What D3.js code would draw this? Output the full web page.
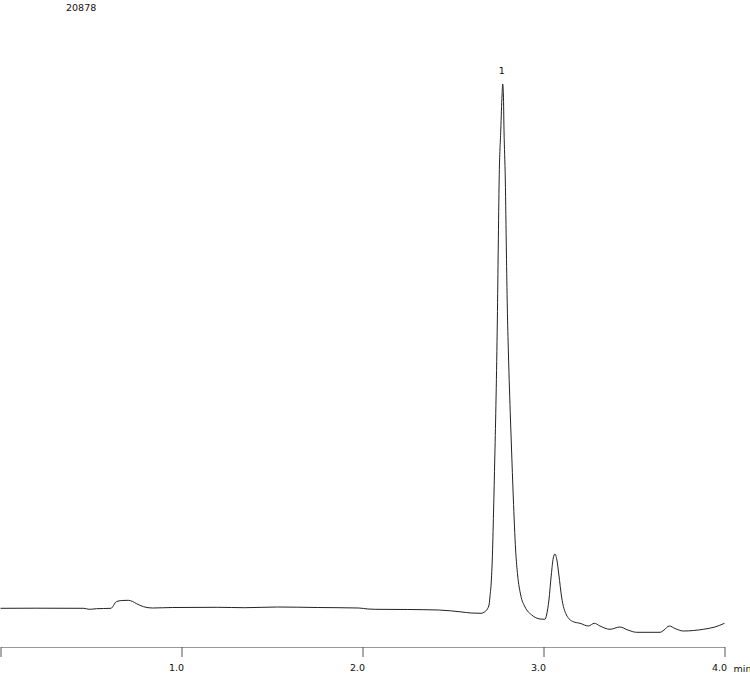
<!DOCTYPE html>
<html>
<head>
<meta charset="utf-8">
<script src="https://cdn.jsdelivr.net/npm/d3@7"></script>
<style>
  html, body { margin: 0; padding: 0; background: #fff; }
  svg { display: block; }
  text { font-family: "DejaVu Sans", Verdana, sans-serif; fill: #111; }
</style>
</head>
<body>
<svg id="chart" width="750" height="673"></svg>
<script>
// Chromatogram data: retention time (min) and detector signal (arbitrary units)
const times = [
  0.00, 0.20, 0.46, 0.49, 0.53, 0.61, 0.64, 0.67, 0.706, 0.73, 0.75, 0.79, 0.84, 0.95,
  1.20, 1.35, 1.53, 1.75, 1.98, 2.03, 2.07, 2.25, 2.42, 2.55, 2.60, 2.655, 2.677, 2.690,
  2.700, 2.704, 2.712, 2.717, 2.724, 2.731, 2.738, 2.745, 2.750, 2.755, 2.764, 2.771,
  2.7746, 2.7785, 2.7818, 2.789, 2.795, 2.800, 2.806, 2.812, 2.823, 2.833, 2.846, 2.857,
  2.874, 2.898, 2.935, 2.981, 3.008,
  3.017, 3.030, 3.043, 3.054, 3.063, 3.074, 3.085, 3.100, 3.127, 3.164, 3.202, 3.248,
  3.281, 3.312, 3.367, 3.422, 3.466, 3.515, 3.644, 3.666, 3.695, 3.727, 3.772, 3.883,
  3.947, 4.00
];
const signal = [
  38.7, 38.8, 38.7, 37.7, 38.3, 38.7, 45.3, 46.5, 46.7, 45.5, 43.5, 40.3, 39.0, 39.5,
  39.7, 39.3, 40.0, 39.5, 39.0, 38.0, 37.7, 37.5, 37.0, 35.0, 34.0, 33.7, 35.5, 38.0,
  43.0, 50.0, 67.0, 87, 135, 190, 250, 327, 400, 467, 517, 552,
  563, 552, 517, 467, 395, 340, 295, 258, 200, 150, 97, 72,
  52, 40, 32, 28, 27.7,
  32, 47, 72, 89, 93, 87, 72, 50, 32, 25.3, 23.7, 21.0,
  23.7, 21.0, 17.7, 20.0, 17.0, 14.7, 14.7, 17.0, 21.0, 18.5, 16.0, 17.7,
  20.0, 23.7
];
const tickValues = [0, 1, 2, 3, 4];
const tickLabels = ["", "1.0", "2.0", "3.0", "4.0"];
const peakLabels = [{ name: "1", time: 2.7746, value: 563 }];
const headerText = "20878";
const unitText = "min";

const svg = d3.select("#chart");
const x = d3.scaleLinear().domain([0, 4]).range([0.5, 724.5]);
const y = d3.scaleLinear().domain([0, 647]).range([647, 0]);

const pts = times.map((t, i) => ({ t, v: signal[i] }));

// Axis
const axis = d3.axisBottom(x)
  .tickValues(tickValues)
  .tickFormat((d, i) => tickLabels[i])
  .tickSize(10)
  .tickSizeOuter(0)
  .tickPadding(7);
const gAxis = svg.append("g")
  .attr("transform", `translate(0,${y(0)})`)
  .call(axis);
gAxis.select(".domain").attr("stroke", "#999").attr("stroke-width", 1);
gAxis.selectAll(".tick line").attr("stroke", "#555").attr("stroke-width", 1);
gAxis.selectAll(".tick text")
  .attr("text-anchor", "end")
  .attr("dx", 2)
  .attr("font-size", 9.5)
  .attr("font-family", "DejaVu Sans, Verdana, sans-serif")
  .attr("fill", "#111");

svg.append("text")
  .attr("x", x(4) + 9)
  .attr("y", y(0) + 25)
  .attr("font-size", 9.5)
  .text(unitText);

// Trace
const line = d3.line()
  .x(d => x(d.t))
  .y(d => y(d.v))
  .curve(d3.curveMonotoneX);
svg.append("path")
  .datum(pts)
  .attr("d", line)
  .attr("fill", "none")
  .attr("stroke", "#222")
  .attr("stroke-width", 1);

// Peak labels
svg.selectAll(".peaklabel")
  .data(peakLabels)
  .join("text")
  .attr("class", "peaklabel")
  .attr("x", d => x(d.time) - 1)
  .attr("y", d => y(d.value) - 10)
  .attr("text-anchor", "middle")
  .attr("font-size", 9.5)
  .text(d => d.name);

// Header
svg.append("text")
  .attr("x", 66)
  .attr("y", 11)
  .attr("font-size", 9.5)
  .text(headerText);
</script>
</body>
</html>
